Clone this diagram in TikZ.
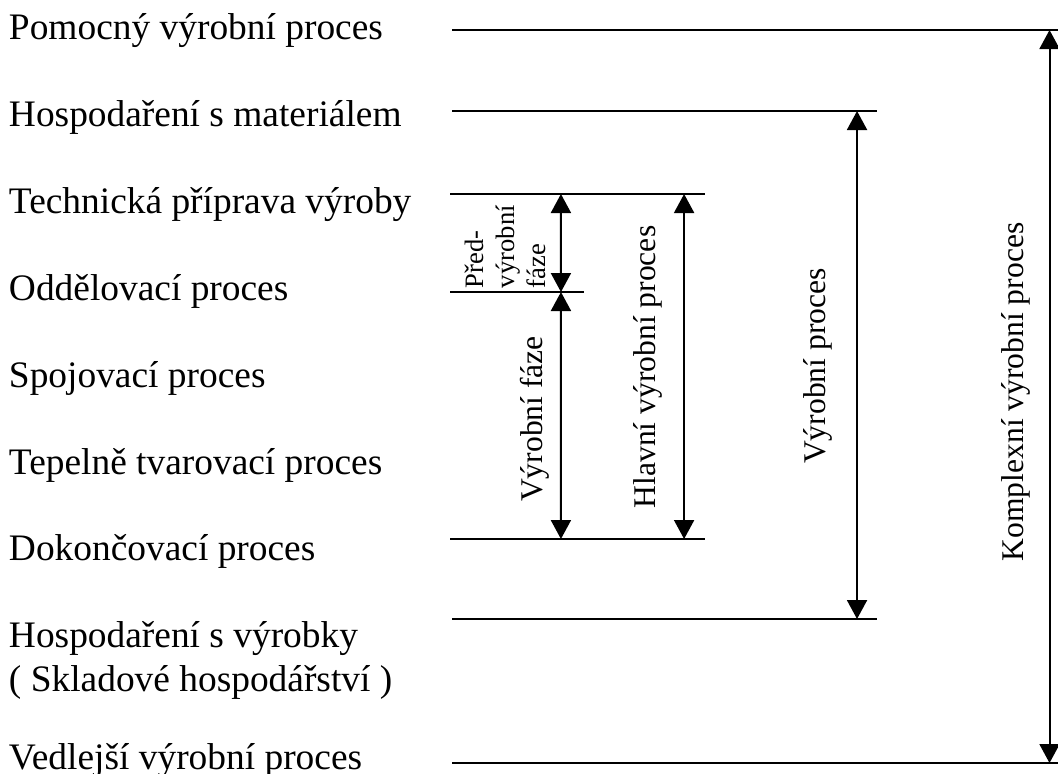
\documentclass[tikz,border=0pt]{standalone}
\usepackage{fontspec}
\setmainfont{Liberation Serif}
\usetikzlibrary{arrows.meta}
\tikzset{>=latex}

\begin{document}
\begin{tikzpicture}[x=0.5pt, y=-0.5pt, line width=1pt, X/.tip={Triangle[length=9.5pt,width=10pt]},
    rowLabel/.style={anchor=base west,inner sep=0pt,font=\fontsize{18.7}{22}\selectfont},
    spanLabel/.style={anchor=base,rotate=90,inner sep=0pt,font=\fontsize{15.8}{19}\selectfont}]
    \useasboundingbox (0,0) rectangle (1058,773);
    \node[rowLabel] (pomocny) at (8,39) {Pomocný výrobní proces};
    \node[rowLabel] (material) at (8,126) {Hospodaření s materiálem};
    \node[rowLabel] (priprava) at (8,213) {Technická příprava výroby};
    \node[rowLabel] (oddelovaci) at (8,300) {Oddělovací proces};
    \node[rowLabel] (spojovaci) at (8,387) {Spojovací proces};
    \node[rowLabel] (tepelne) at (8,474) {Tepelně tvarovací proces};
    \node[rowLabel] (dokoncovaci) at (8,560) {Dokončovací proces};
    \node[rowLabel] (vyrobky) at (8,647) {Hospodaření s výrobky};
    \node[rowLabel] (sklad) at (8,691) {( Skladové hospodářství )};
    \node[rowLabel] (vedlejsi) at (8,769) {Vedlejší výrobní proces};
    \draw (452,30) -- (1058,30) coordinate[pos=0.986] (komplexTop);
    \draw (452,111) -- (877,111) coordinate[pos=0.953] (vyrobniTop);
    \draw (450,194) -- (705,194) coordinate[pos=0.435] (predTop) coordinate[pos=0.918] (hlavniTop);
    \draw (450,292) -- (584,292) coordinate[pos=0.828] (predBot);
    \draw (450,539) -- (705,539) coordinate[pos=0.435] (fazeBot) coordinate[pos=0.918] (hlavniBot);
    \draw (452,619) -- (877,619) coordinate[pos=0.953] (vyrobniBot);
    \draw (452,763) -- (1058,763) coordinate[pos=0.986] (komplexBot);
    \node[rotate=90,anchor=north west,align=left,inner sep=0pt,font=\fontsize{13.3}{15.5}\selectfont] (predvyrobni) at (464,289) {Před-\\výrobní\\fáze};
    \node[spanLabel] (vyrobniFaze) at (542,419) {Výrobní fáze};
    \node[spanLabel] (hlavni) at (655,367) {Hlavní výrobní proces};
    \node[spanLabel] (vyrobni) at (825,366) {Výrobní proces};
    \node[spanLabel] (komplexni) at (1023,392) {Komplexní výrobní proces};
    \draw[X-X] (predTop) -- (predBot);
    \draw[X-X] (predBot) -- (fazeBot);
    \draw[X-X] (hlavniTop) -- (hlavniBot);
    \draw[X-X] (vyrobniTop) -- (vyrobniBot);
    \draw[X-X] (komplexTop) -- (komplexBot);
\end{tikzpicture}
\end{document}
